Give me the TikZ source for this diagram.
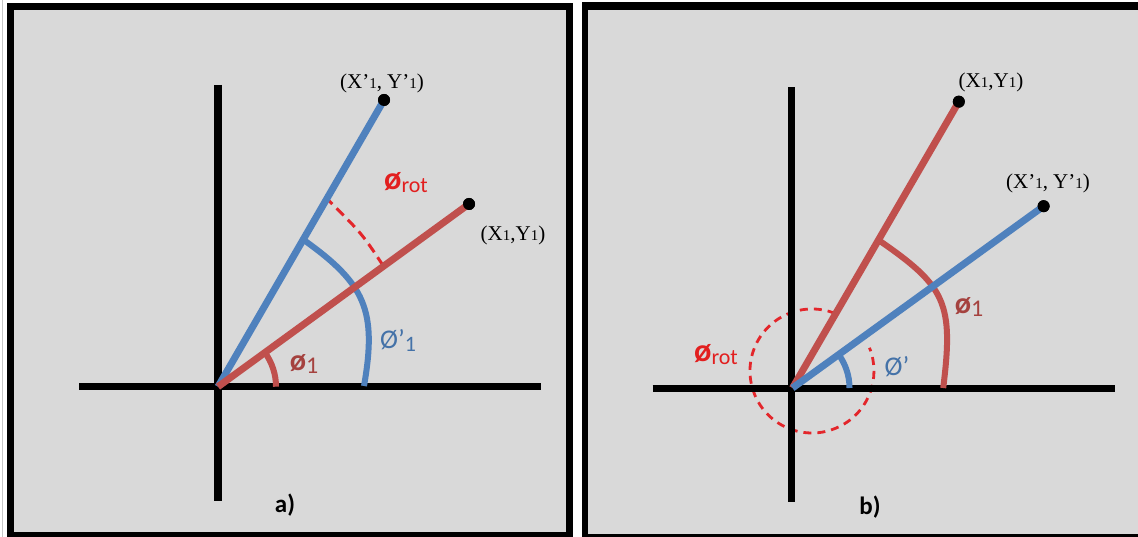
\documentclass[tikz,border=0pt]{standalone}
\usepackage{fontspec}
\setmainfont{Liberation Serif}
\newfontfamily\calfont{Carlito}
\definecolor{bgg}{HTML}{D9D9D9}
\definecolor{cblue}{HTML}{4F81BD}
\definecolor{cred}{HTML}{C0504D}
\definecolor{cdash}{HTML}{E3262B}
\definecolor{crot}{HTML}{E21F1F}
\definecolor{cphi}{HTML}{A5423F}
\definecolor{cphib}{HTML}{4472A8}
\newcommand{\smone}{{\fontsize{15}{15}\selectfont 1}}
\newcommand{\phirot}{{\calfont\fontsize{32}{32}\selectfont\bfseries ø\raisebox{-3pt}{\fontsize{22}{22}\selectfont\mdseries rot}}}
\newcommand{\phione}{{\calfont\fontsize{30}{30}\selectfont\bfseries ø\raisebox{-3pt}{\fontsize{24}{24}\selectfont\mdseries 1}}}
\newcommand{\phiblue}[1]{{\calfont\fontsize{27}{27}\selectfont Ø’\raisebox{-3pt}{\fontsize{22}{22}\selectfont #1}}}
\begin{document}
\begin{tikzpicture}[x=1pt,y=-1pt,
  axisline/.style={line width=7.5pt, black},
  blueline/.style={line width=7pt, cblue},
  redline/.style={line width=7pt, cred},
  bluearc/.style={line width=6pt, cblue},
  redarc/.style={line width=6pt, cred},
  dsh/.style={line width=3pt, cdash, dash pattern=on 10pt off 6pt},
  dot/.style={circle, fill=black, inner sep=0pt, minimum size=12pt},
  lbl/.style={inner sep=0pt, anchor=center},
  coordtxt/.style={lbl, font=\fontsize{21}{21}\selectfont},
  paneltxt/.style={lbl, font=\calfont\fontsize{25}{25}\selectfont\bfseries}]
\useasboundingbox (0,0) rectangle (1138,537);
\fill[white] (0,0) rectangle (1138,537);
\draw[gray!45, line width=1pt] (2.5,0) -- (2.5,537);
% panel frames
\fill[black] (7,3) rectangle (573,537);
\fill[bgg] (14,10) rectangle (566,531.5);
\fill[black] (582,2) rectangle (1140,537);
\fill[bgg] (588,10) rectangle (1138,534);

% ---------- panel a ----------
\coordinate (oa) at (218,386.7);
\coordinate (axl) at (79,386.7);
\coordinate (axr) at (541.4,386.7);
\coordinate (ayt) at (218,85);
\coordinate (ayb) at (218,500.5);
\node[dot] (pa1) at (384,100) {};
\node[dot] (pa2) at (469,204) {};
\draw[dsh] (325.2,197.1) .. controls (362,233.5) .. (384.3,267.4);
\draw[axisline] (axl) -- (axr);
\draw[axisline] (ayt) -- (ayb);
\draw[bluearc] (303.8,240) .. controls (364.9,283.5) and (377.3,310.2) .. (364,386);
\draw[redarc] (276,386.7) arc[start angle=0, end angle=-36, radius=58];
\draw[blueline] (oa) -- (pa1.center);
\draw[redline] (oa) -- (pa2.center);
\node[dot] at (pa1) {};
\node[dot] at (pa2) {};
\node[coordtxt] (la1) at (382,83) {(X’\smone, Y’\smone)};
\node[coordtxt] (la2) at (513,235) {(X\smone,Y\smone)};
\node[lbl, text=crot] (la3) at (406,183) {\phirot};
\node[lbl, text=cphib] (la4) at (398,340) {\phiblue{1}};
\node[lbl, text=cphi] (la5) at (304,364) {\phione};
\node[paneltxt] (la6) at (285,505) {a)};

% ---------- panel b ----------
\coordinate (ob) at (792.5,388);
\coordinate (bxl) at (652.6,388.7);
\coordinate (bxr) at (1115.3,388.7);
\coordinate (byt) at (791.7,87.3);
\coordinate (byb) at (791.7,501.7);
\node[dot] (pb1) at (958.8,101.7) {};
\node[dot] (pb2) at (1043.6,206.2) {};
\draw[dsh, line width=2.8pt, dash pattern=on 8pt off 6pt] (835.2,313.5) arc[start angle=-68, end angle=-382, radius=62];
\draw[axisline] (bxl) -- (bxr);
\draw[axisline] (byt) -- (byb);
\draw[redarc] (878,239.7) .. controls (945.6,286.2) and (953.9,302.4) .. (943.2,388);
\draw[bluearc] (849.5,388) arc[start angle=0, end angle=-36, radius=57];
\draw[redline] (ob) -- (pb1.center);
\draw[blueline] (ob) -- (pb2.center);
\node[dot] at (pb1) {};
\node[dot] at (pb2) {};
\node[coordtxt] (lb1) at (991,82) {(X\smone,Y\smone)};
\node[coordtxt] (lb2) at (1048,183) {(X’\smone, Y’\smone)};
\node[lbl, text=cphi] (lb3) at (969,307) {\phione};
\node[lbl, text=cphib] (lb4) at (897,367) {\phiblue{}};
\node[lbl, text=crot] (lb5) at (716,355) {\phirot};
\node[paneltxt] (lb6) at (870,507) {b)};
\end{tikzpicture}
\end{document}
